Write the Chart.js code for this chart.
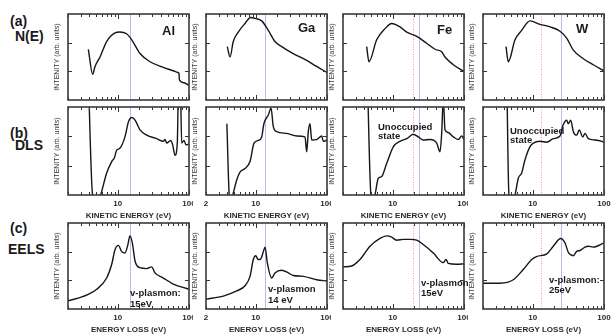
<!DOCTYPE html>
<html><head><meta charset="utf-8">
<script src="https://cdn.jsdelivr.net/npm/chart.js@4/dist/chart.umd.min.js"></script>
<style>
html,body{margin:0;padding:0;background:#fff;}
body{width:611px;height:336px;position:relative;overflow:hidden;font-family:"Liberation Sans",Arial,sans-serif;}
canvas{position:absolute;}
.t{position:absolute;font-weight:bold;color:#1a1a1a;white-space:nowrap;line-height:1;}
.big{font-size:14px;}
.el{font-size:13px;}
.ann{font-size:9.5px;}
</style></head><body>
<div class="t big" style="left:10px;top:14px">(a)</div>
<div class="t big" style="left:15px;top:29px">N(E)</div>
<div class="t big" style="left:10px;top:126px">(b)</div>
<div class="t big" style="left:15px;top:138px">DLS</div>
<div class="t big" style="left:10px;top:221px">(c)</div>
<div class="t big" style="left:8px;top:242px">EELS</div>
<script>
// ---------- data (energy in eV, intensity in arbitrary units, normalised 0..1) ----------
const elements = ["Al", "Ga", "Fe", "W"];
const rowLabels = ["N(E)", "DLS", "EELS"];
const xTitleKinetic = "KINETIC ENERGY (eV)";
const xTitleLoss = "ENERGY LOSS (eV)";
const yTitle = "INTENITY (arb. units)";
const xTicks = [2,3,4,5,6,7,8,9,10,20,30,40,50,60,70,80,90,100];
const tickLabelsAl = {10:"10", 100:"100"};
const tickLabelsGa = {2:"2", 10:"10", 100:"100"};
const tickLabelsFe = {10:"10", 100:"100"};
const tickLabelsW  = {10:"10", 100:"100"};
const plasmonLine = [15, 13.5, 23.5, 24.7];   // blue vertical markers (eV)
const edgeLine = [null, null, 19.4, 12.9];     // red dotted markers (eV)

// N(E)
const alNE_E = [3.86, 4.44, 4.79, 5.63, 6.98, 9.14, 10.7, 13.3, 15.7, 20.5, 28.3, 43.6, 60, 70, 72.3, 73.5, 85, 100];
const alNE_I = [0.59, 0.30, 0.39, 0.50, 0.68, 0.78, 0.79, 0.77, 0.70, 0.54, 0.445, 0.38, 0.34, 0.32, 0.31, 0.23, 0.20, 0.17];
const gaNE_E = [3.98, 4.35, 4.83, 5.68, 7.06, 8.48, 9.75, 12.1, 15.0, 18.6, 23.1, 33.6, 51.9, 71.6, 100];
const gaNE_I = [0.62, 0.50, 0.68, 0.79, 0.89, 0.96, 0.95, 0.92, 0.81, 0.68, 0.62, 0.54, 0.46, 0.39, 0.32];
const feNE_E = [4.30, 4.63, 5.94, 7.78, 9.66, 12.6, 15.7, 21.7, 29.9, 39.2, 48.6, 54.1, 70.8, 100];
const feNE_I = [0.62, 0.445, 0.70, 0.83, 0.89, 0.85, 0.79, 0.74, 0.66, 0.59, 0.56, 0.50, 0.41, 0.33];
const wNE_E  = [4.21, 4.53, 5.63, 6.98, 9.14, 12.6, 17.5, 24.1, 29.9, 37.1, 51.2, 70.8, 100];
const wNE_I  = [0.62, 0.445, 0.70, 0.81, 0.92, 0.88, 0.85, 0.80, 0.72, 0.58, 0.48, 0.41, 0.34];

// DLS
const alDLS_E = [3.87, 4.44, 5.3, 5.63, 6.98, 8.22, 8.93, 9.66, 10.7, 12.6, 14.1, 15.7, 17.5, 20.5, 25.5, 35.2, 43.6, 46.0, 48.6, 55.3, 59.0, 63.6, 68.5, 71.5, 75.5, 78.9, 85.1, 90.7, 100];
const alDLS_I = [1.3, 0.0, -0.05, -0.02, 0.25, 0.38, 0.42, 0.51, 0.53, 0.66, 0.83, 0.88, 0.85, 0.74, 0.68, 0.64, 0.61, 0.63, 0.59, 0.62, 0.57, 0.45, 0.59, 1.3, 1.3, 0.59, 0.62, 0.57, 0.58];
const gaDLS_E = [3.93, 4.25, 4.6, 4.83, 5.40, 6.00, 7.06, 8.30, 9.44, 10.8, 12.1, 13.0, 15.0, 16.4, 17.6, 19.7, 27.2, 37.6, 49.1, 51.9, 54.6, 57.7, 61.0, 71.6, 84.3, 88.7, 100];
const gaDLS_I = [0.81, 0.0, -0.05, 0.02, 0.17, 0.26, 0.30, 0.38, 0.59, 0.62, 0.66, 0.81, 0.91, 0.985, 0.78, 0.72, 0.70, 0.67, 0.66, 0.49, 0.72, 0.81, 0.625, 0.63, 0.67, 0.61, 0.625];
const feDLS_E = [4.41, 4.94, 5.4, 5.63, 6.26, 6.98, 8.22, 10.2, 12.6, 15.7, 19.4, 22.8, 26.8, 33.3, 41.4, 46.0, 48.6, 51.2, 54.1, 60.2, 70.8, 83.2, 92.9, 100];
const feDLS_I = [1.3, 0.0, -0.05, 0.0, 0.19, 0.21, 0.36, 0.55, 0.61, 0.64, 0.69, 0.66, 0.625, 0.63, 0.59, 0.49, 0.70, 1.1, 0.74, 0.71, 0.66, 0.63, 0.67, 0.63];
const wDLS_E  = [4.32, 4.63, 5.3, 5.63, 6.26, 6.98, 7.78, 9.14, 10.2, 12.6, 15.7, 19.4, 24.1, 26.8, 29.9, 31.5, 34.1, 37.1, 41.4, 45.0, 50.2, 54.1, 60.2, 74.8, 92.9, 100];
const wDLS_I  = [1.3, 0.0, -0.05, 0.0, 0.19, 0.25, 0.40, 0.55, 0.59, 0.61, 0.60, 0.64, 0.67, 0.80, 0.85, 0.81, 0.85, 0.72, 0.68, 0.74, 0.66, 0.70, 0.64, 0.625, 0.61, 0.60];

// EELS
const alEELS_E = [2.0, 3.28, 5.06, 6.98, 8.22, 9.14, 10.2, 11.3, 12.6, 13.8, 14.8, 16.0, 17.5, 20.5, 25.5, 29.9, 33.3, 43.6, 60.2, 100];
const alEELS_I = [0.095, 0.146, 0.23, 0.36, 0.52, 0.69, 0.74, 0.67, 0.65, 0.74, 0.85, 0.77, 0.555, 0.48, 0.47, 0.49, 0.42, 0.36, 0.29, 0.23];
const gaEELS_E = [2.0, 3.50, 5.40, 7.06, 8.30, 9.23, 9.98, 10.8, 11.7, 12.8, 13.5, 14.5, 16.7, 18.6, 23.1, 28.6, 33.6, 46.5, 71.6, 100];
const gaEELS_I = [0.115, 0.15, 0.21, 0.27, 0.38, 0.575, 0.62, 0.575, 0.58, 0.67, 0.72, 0.54, 0.36, 0.42, 0.45, 0.42, 0.39, 0.38, 0.34, 0.325];
const feEELS_E = [2.0, 2.65, 3.46, 4.79, 6.62, 8.22, 9.66, 11.3, 14.1, 17.5, 21.7, 26.8, 37.1, 51.2, 55.9, 60.2, 78.9, 100];
const feEELS_I = [0.49, 0.50, 0.575, 0.73, 0.82, 0.85, 0.835, 0.80, 0.81, 0.81, 0.80, 0.75, 0.65, 0.54, 0.575, 0.53, 0.52, 0.525];
const wEELS_E  = [2.0, 3.46, 5.33, 7.36, 9.66, 11.3, 15.7, 19.4, 24.7, 28.3, 31.5, 37.1, 41.4, 46.0, 54.1, 60.2, 70.8, 100];
const wEELS_I  = [0.30, 0.30, 0.34, 0.46, 0.575, 0.61, 0.64, 0.73, 0.82, 0.77, 0.66, 0.62, 0.67, 0.68, 0.72, 0.73, 0.72, 0.77];

// annotations
const panelNotes = [
  {text: "Al", cls: "el", left: 162, top: 24},
  {text: "Ga", cls: "el", left: 298, top: 21},
  {text: "Fe", cls: "el", left: 437, top: 23},
  {text: "W",  cls: "el", left: 576, top: 22},
  {text: "Unoccupied<br>state", cls: "ann", left: 378, top: 121.7, lh: 9},
  {text: "Unoccupied<br>state", cls: "ann", left: 510, top: 125.7, lh: 9},
  {text: "v-plasmon:<br>15eV", cls: "ann", left: 130, top: 287, lh: 11},
  {text: "v-plasmon<br>14 eV", cls: "ann", left: 268, top: 283, lh: 11},
  {text: "v-plasmon<br>15eV", cls: "ann", left: 421, top: 278, lh: 10},
  {text: "v-plasmon:<br>25eV", cls: "ann", left: 549, top: 275, lh: 10}
];

// ---------- layout ----------
const colLeft = [68, 206, 343, 483];
const boxW = 121;
const padRight = [4, 4, 4, 7];
const rowTop = [10, 103, 219];
const rowH = [92, 118, 117];
const xAxisH = [2, 26, 26];

const seriesE = [[alNE_E, gaNE_E, feNE_E, wNE_E],[alDLS_E, gaDLS_E, feDLS_E, wDLS_E],[alEELS_E, gaEELS_E, feEELS_E, wEELS_E]];
const seriesI = [[alNE_I, gaNE_I, feNE_I, wNE_I],[alDLS_I, gaDLS_I, feDLS_I, wDLS_I],[alEELS_I, gaEELS_I, feEELS_I, wEELS_I]];
const tickLabels = [tickLabelsAl, tickLabelsGa, tickLabelsFe, tickLabelsW];

Chart.defaults.font.family = '"Liberation Sans", Arial, sans-serif';

const framePlugin = {
  id: 'frame',
  beforeDatasetsDraw(chart, args, o) {
    const {ctx, chartArea: a, scales: {x}} = chart;
    ctx.save();
    ctx.lineWidth = 1;
    if (o.red != null) {
      const px = Math.round(x.getPixelForValue(o.red)) + 0.5;
      ctx.strokeStyle = '#f29a9a'; ctx.setLineDash([1, 1.5]);
      ctx.beginPath(); ctx.moveTo(px, a.top); ctx.lineTo(px, a.bottom); ctx.stroke();
    }
    if (o.blue != null) {
      const px = Math.round(x.getPixelForValue(o.blue)) + 0.5;
      ctx.strokeStyle = '#b8b8f2'; ctx.setLineDash([]);
      ctx.beginPath(); ctx.moveTo(px, a.top); ctx.lineTo(px, a.bottom); ctx.stroke();
    }
    ctx.restore();
  },
  afterDatasetsDraw(chart) {
    const {ctx, chartArea: a, scales: {x, y}} = chart;
    ctx.save();
    ctx.strokeStyle = '#333';
    ctx.lineWidth = 1;
    ctx.beginPath();
    xTicks.forEach(v => {
      const px = Math.round(x.getPixelForValue(v)) + 0.5;
      const len = (v === 10 || v === 100) ? 5 : 3;
      ctx.moveTo(px, a.bottom); ctx.lineTo(px, a.bottom - len);
      ctx.moveTo(px, a.top); ctx.lineTo(px, a.top + len);
    });
    [1/3, 2/3].forEach(v => {
      const py = Math.round(y.getPixelForValue(v)) + 0.5;
      ctx.moveTo(a.left, py); ctx.lineTo(a.left + 4, py);
      ctx.moveTo(a.right, py); ctx.lineTo(a.right - 4, py);
    });
    ctx.stroke();
    ctx.strokeStyle = '#3a3a3a';
    ctx.lineWidth = 1.6;
    ctx.strokeRect(a.left, a.top, a.right - a.left, a.bottom - a.top);
    ctx.restore();
  }
};

for (let r = 0; r < 3; r++) {
  for (let c = 0; c < 4; c++) {
    const cv = document.createElement('canvas');
    const w = 15 + boxW + padRight[c];
    cv.width = w; cv.height = rowH[r];
    cv.style.left = (colLeft[c] - 15) + 'px';
    cv.style.top = rowTop[r] + 'px';
    cv.style.width = w + 'px'; cv.style.height = rowH[r] + 'px';
    document.body.appendChild(cv);
    const E = seriesE[r][c], I = seriesI[r][c];
    const labels = tickLabels[c];
    new Chart(cv, {
      type: 'line',
      data: { datasets: [{
        label: elements[c] + ' ' + rowLabels[r],
        data: E.map((e, i) => ({x: e, y: I[i]})),
        borderColor: '#161616', borderWidth: 1.4, pointRadius: 0,
        cubicInterpolationMode: 'monotone', fill: false
      }]},
      options: {
        responsive: false, animation: false, devicePixelRatio: 1,
        layout: { padding: {top: 4, right: padRight[c], bottom: r === 2 ? 1 : 0, left: 0} },
        plugins: { legend: {display: false}, tooltip: {enabled: false},
          frame: {blue: plasmonLine[c], red: edgeLine[c]} },
        scales: {
          x: {
            type: 'logarithmic', min: 2, max: 100,
            grid: {display: false, drawTicks: false}, border: {display: false},
            ticks: { display: r > 0, autoSkip: false, maxRotation: 0, minRotation: 0, padding: 4,
              color: '#2a2a2a', font: {size: 8, weight: 'bold'},
              callback: v => labels[Math.round(v)] || '' },
            title: { display: r > 0, text: r === 1 ? xTitleKinetic : xTitleLoss,
              color: '#2a2a2a', font: {size: 8, weight: 'bold'}, padding: 0 },
            afterFit: s => { s.height = xAxisH[r]; s.paddingLeft = 0; s.paddingRight = 0; }
          },
          y: {
            min: 0, max: 1,
            grid: {display: false, drawTicks: false}, border: {display: false},
            ticks: {display: false},
            title: { display: true, text: yTitle, color: '#333', font: {size: 7}, padding: 0 },
            afterFit: s => { s.width = 15; s.paddingTop = 0; s.paddingBottom = 0; }
          }
        }
      },
      plugins: [framePlugin]
    });
  }
}

panelNotes.forEach(n => {
  const d = document.createElement('div');
  d.className = 't ' + n.cls;
  d.innerHTML = n.text;
  d.style.left = n.left + 'px';
  d.style.top = n.top + 'px';
  if (n.lh) d.style.lineHeight = n.lh + 'px';
  document.body.appendChild(d);
});
</script>
</body></html>
